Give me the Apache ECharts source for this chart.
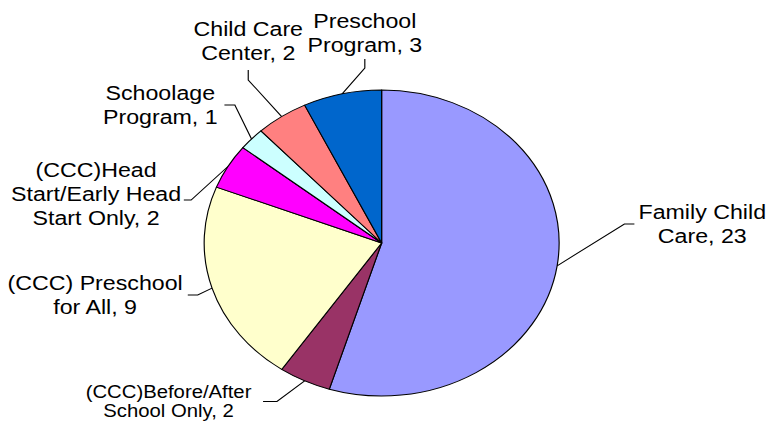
<!DOCTYPE html>
<html><head><meta charset="utf-8">
<script src="https://cdn.jsdelivr.net/npm/echarts@6/dist/echarts.min.js"></script>
<style>
html,body{margin:0;padding:0;background:#fff;overflow:hidden;width:768px;height:424px;}
#wrap{position:absolute;left:0;top:0;width:662px;height:424px;transform:scaleX(1.16);transform-origin:0 0;}
</style></head><body><div id="wrap"></div>
<script>
// ---- data ----
const categories = [
  'Family Child\nCare',
  '(CCC)Before/After\nSchool Only',
  '(CCC) Preschool\nfor All',
  '(CCC)Head\nStart/Early Head\nStart Only',
  'Schoolage\nProgram',
  'Child Care\nCenter',
  'Preschool\nProgram'
];
const values = [23, 2, 9, 2, 1, 2, 3];
const colors = ['#9999FF', '#993366', '#FFFFCC', '#FF00FF', '#CCFFFF', '#FF8080', '#0066CC'];

// ---- label placement (layout/style only) ----
const labelPlace = [
  {x: 605.4, y: 224,   side: 'left',   gap: 3.5, seg: 8.6},
  {x: 145.3, y: 401.5, side: 'right',  gap: 10,  seg: 12},
  {x: 82,    y: 295,   side: 'right',  gap: 4.3, seg: 8.6},
  {x: 82.8,  y: 194,   side: 'right',  gap: 2.3, seg: 6.3, dy: 6},
  {x: 138.2, y: 105,   side: 'right',  gap: 5.8, seg: 9},
  {x: 214,   y: 41.5,  side: 'bottom', gap: 4.5, seg: 10},
  {x: 314.5, y: 33,    side: 'bottom', gap: 2,   seg: 9}
];
const CX = 329, CY = 243, R = 153;

const chart = echarts.init(document.getElementById('wrap'), null, {renderer: 'svg', width: 662, height: 424});

function edgePoint(i) {
  const total = values.reduce((a, b) => a + b, 0);
  let cum = 0;
  for (let k = 0; k < i; k++) cum += values[k];
  const mid = (cum + values[i] / 2) / total * Math.PI * 2;
  return [CX + R * Math.sin(mid), CY - R * Math.cos(mid)];
}

chart.setOption({
  animation: false,
  backgroundColor: '#fff',
  series: [{
    type: 'pie',
    center: [CX, CY],
    radius: R,
    startAngle: 90,
    clockwise: true,
    avoidLabelOverlap: false,
    emphasis: {disabled: true},
    itemStyle: {borderColor: '#000', borderWidth: 1},
    label: {
      show: true,
      position: 'outside',
      formatter: '{b}, {c}',
      color: '#000',
      fontSize: 20,
      lineHeight: 24,
      fontFamily: '"Liberation Sans", Arial, sans-serif',
      align: 'center'
    },
    labelLine: {show: true, length: 5, length2: 5, smooth: false, lineStyle: {color: '#000', width: 1}},
    labelLayout: function (params) {
      const i = params.dataIndex;
      const p = labelPlace[i];
      const w = params.labelRect.width, h = params.labelRect.height;
      const edge = (params.labelLinePoints && params.labelLinePoints[0]) ? params.labelLinePoints[0] : edgePoint(i);
      let a, b;
      const dy = p.dy || 0;
      if (p.side === 'left') {
        a = [p.x - w / 2 - p.gap, p.y + dy];
        b = [a[0] - p.seg, a[1]];
      } else if (p.side === 'right') {
        a = [p.x + w / 2 + p.gap, p.y + dy];
        b = [a[0] + p.seg, a[1]];
      } else {
        a = [p.x, p.y + h / 2 + p.gap];
        b = [p.x, a[1] + p.seg];
      }
      return {x: p.x, y: p.y, align: 'center', verticalAlign: 'middle', labelLinePoints: [edge, b, a]};
    },
    data: categories.map((c, i) => ({
      name: c,
      value: values[i],
      itemStyle: {color: colors[i]},
      label: i === 1 ? {fontSize: 17.5, lineHeight: 19} : {}
    }))
  }]
});
</script>
</body></html>
